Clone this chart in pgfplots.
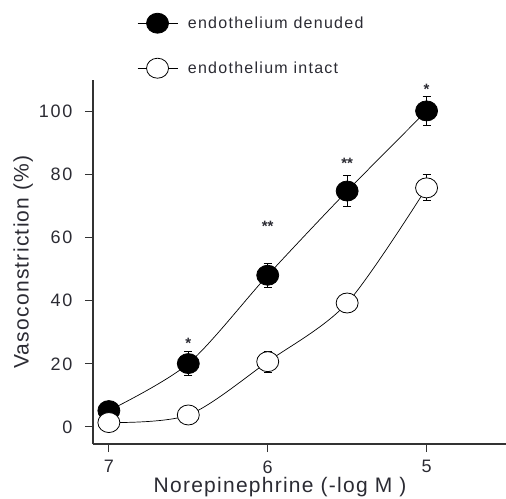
\documentclass[border=0pt]{standalone}
\usepackage{pgfplots}
\pgfplotsset{compat=1.18}
\usepackage{fontspec}
\setmainfont{Liberation Sans}
\newfontfamily\tickfont[LetterSpace=10]{Liberation Sans}
\newfontfamily\labfont[LetterSpace=6]{Liberation Sans}
\newfontfamily\legfont[LetterSpace=8]{Liberation Sans}
\definecolor{txt}{HTML}{2B2B33}
\pgfplotstableread{
x y err
7 5.2 1.0
6.5 20.1 3.7
6 48.1 3.8
5.5 74.8 4.8
5 100.2 4.7
}\denuded
\pgfplotstableread{
x y err
7 1.4 0.5
6.5 3.8 1.0
6 20.7 3.3
5.5 39.3 3.0
5 75.8 4.1
}\intact
\begin{document}
\begin{tikzpicture}
\begin{axis}[
 at={(93bp,55bp)}, anchor=south west,
 scale only axis, width=413bp, height=364bp,
 x dir=reverse, xmin=4.5, xmax=7.1, ymin=-5.4, ymax=110,
 axis x line*=bottom, axis y line*=left,
 axis line style={-, line width=1.1bp, color=black!80},
 xtick={5,6,7}, ytick={0,20,...,100},
 tick align=outside, major tick length=8bp,
 tick style={line width=1bp, black!80},
 minor tick num=0,
 ticklabel style={text=txt, font=\tickfont\fontsize{18bp}{20bp}\selectfont},
 xticklabel style={yshift=-5bp},
 yticklabel style={xshift=-9bp},
 /pgf/number format/assume math mode=true,
 xlabel={Norepinephrine (-log M )},
 ylabel={Vasoconstriction (\%)},
 label style={text=txt, font=\labfont\fontsize{21bp}{24bp}\selectfont},
 xlabel style={at={(axis description cs:0.453,-0.118)}, anchor=center},
 ylabel style={at={(axis description cs:-0.169,0.5)}, anchor=center, rotate=0},
 clip=false,
 legend style={at={(rel axis cs:0.1065,1.184)}, anchor=north west, draw=none, fill=none,
   inner sep=0pt, row sep=25bp, column sep=8bp, font=\legfont\fontsize{16bp}{18bp}\selectfont, text=txt,
   legend cell align=left},
 legend image code/.code={\draw[mark repeat=2,mark phase=2] plot coordinates {(0bp,0bp) (20bp,0bp) (40bp,0bp)};},
]
\addplot[black, line width=0.7bp, smooth, mark=*, mark size=10bp,
  mark options={fill=black, xscale=1.1, line width=0.8bp},
  error bars/.cd, y dir=both, y explicit,
  error bar style={line width=0.9bp, black},
  error mark options={rotate=90, mark size=4bp, line width=0.9bp, black}]
  table[x=x, y=y, y error=err] {\denuded};
\addlegendentry{endothelium denuded}
\addplot[black, line width=0.7bp, smooth, mark=*, mark size=10bp,
  mark options={fill=white, xscale=1.1, line width=0.8bp},
  error bars/.cd, y dir=both, y explicit,
  error bar style={line width=0.9bp, black},
  error mark options={rotate=90, mark size=4bp, line width=0.9bp, black}]
  table[x=x, y=y, y error=err] {\intact};
\addlegendentry{endothelium intact}
\node[text=txt, font=\bfseries\fontsize{15bp}{17bp}\selectfont] at (axis cs:6.5,26.5) {*};
\node[text=txt, font=\bfseries\fontsize{15bp}{17bp}\selectfont] at (axis cs:6,63.5) {**};
\node[text=txt, font=\bfseries\fontsize{15bp}{17bp}\selectfont] at (axis cs:5.5,83.5) {**};
\node[text=txt, font=\bfseries\fontsize{15bp}{17bp}\selectfont] at (axis cs:5,107) {*};
\end{axis}
\pgfresetboundingbox
\path[use as bounding box] (0,0) rectangle (506bp,499bp);
\end{tikzpicture}
\end{document}
